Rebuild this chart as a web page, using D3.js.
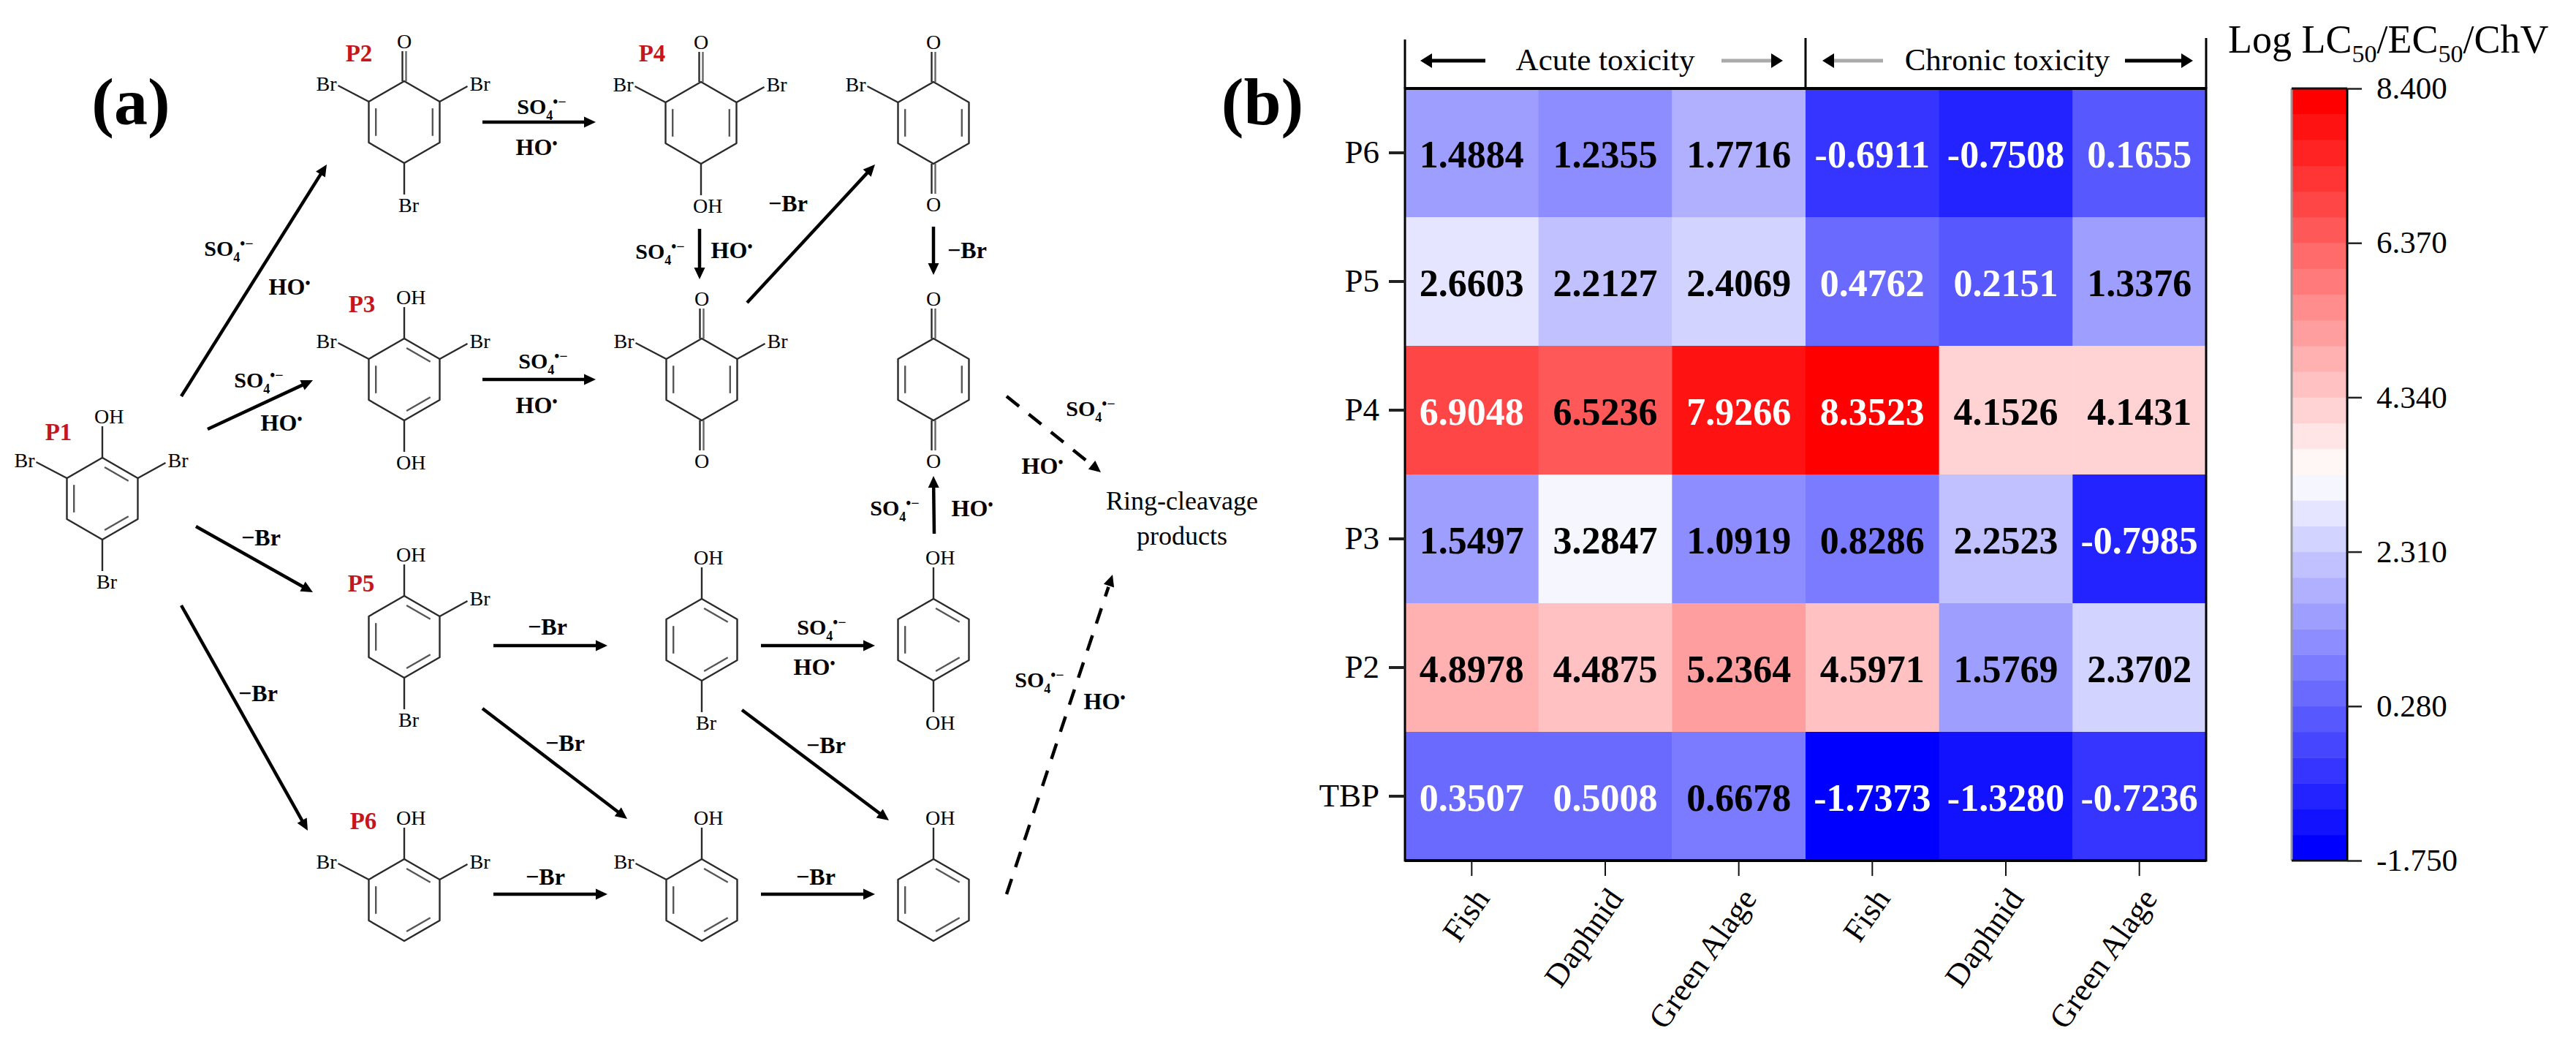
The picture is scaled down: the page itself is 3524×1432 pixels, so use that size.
<!DOCTYPE html>
<html><head><meta charset="utf-8">
<script src="https://cdn.jsdelivr.net/npm/d3@7"></script>
<style>
html,body{margin:0;padding:0;background:#fff}
svg{display:block}
text{font-family:"Liberation Serif","Times New Roman",serif;fill:#000}
</style></head><body>
<svg id="chart" width="3524" height="1432"></svg>
<script>
// ---------- panel (b) data ----------
const compounds = ["P6","P5","P4","P3","P2","TBP"];
const endpoints = ["Fish","Daphnid","Green Alage","Fish ","Daphnid ","Green Alage "];
const groupNames = ["Acute toxicity","Chronic toxicity"];
const rowP6  = [1.4884,1.2355,1.7716,-0.6911,-0.7508,0.1655];
const rowP5  = [2.6603,2.2127,2.4069,0.4762,0.2151,1.3376];
const rowP4  = [6.9048,6.5236,7.9266,8.3523,4.1526,4.1431];
const rowP3  = [1.5497,3.2847,1.0919,0.8286,2.2523,-0.7985];
const rowP2  = [4.8978,4.4875,5.2364,4.5971,1.5769,2.3702];
const rowTBP = [0.3507,0.5008,0.6678,-1.7373,-1.3280,-0.7236];
const toxicityRows = [rowP6,rowP5,rowP4,rowP3,rowP2,rowTBP];
const colorTicks = [8.4,6.37,4.34,2.31,0.28,-1.75];
const colorLevels = 30;
const legendTitle = ["Log LC","50","/EC","50","/ChV"];

// ---------- panel (a) data, in diagram units ----------
const ringSize = 5.6;
const molecules = [
 {id:"P1",x:14.0,y:68.2,dbl:[0,2,4],top:"OH",ul:"Br",ur:"Br",bottom:"Br"},
 {id:"P2",x:55.3,y:16.7,dbl:[1,4],top:"O",ul:"Br",ur:"Br",bottom:"Br"},
 {id:"P3",x:55.3,y:51.9,dbl:[0,2,4],top:"OH",ul:"Br",ur:"Br",bottom:"OH"},
 {id:"P5",x:55.3,y:87.1,dbl:[0,2,4],top:"OH",ur:"Br",bottom:"Br"},
 {id:"P6",x:55.3,y:123.1,dbl:[0,2,4],top:"OH",ul:"Br",ur:"Br"},
 {id:"P4",x:95.9,y:16.8,dbl:[1,4],top:"O",ul:"Br",ur:"Br",bottom:"OH"},
 {id:"",x:96.0,y:51.9,dbl:[1,4],top:"O",ul:"Br",ur:"Br",bottom:"O"},
 {id:"",x:96.0,y:87.5,dbl:[0,2,4],top:"OH",bottom:"Br"},
 {id:"",x:96.0,y:123.1,dbl:[0,2,4],top:"OH",ul:"Br"},
 {id:"",x:127.7,y:16.8,dbl:[1,4],top:"O",ul:"Br",bottom:"O"},
 {id:"",x:127.7,y:51.9,dbl:[1,4],top:"O",bottom:"O"},
 {id:"",x:127.7,y:87.5,dbl:[0,2,4],top:"OH",bottom:"OH"},
 {id:"",x:127.7,y:123.1,dbl:[0,2,4],top:"OH"}
];
const productTags = [
 ["P1",8.0,59.0],["P2",49.1,7.2],["P3",49.5,41.5],["P4",89.2,7.2],["P5",49.4,79.7],["P6",49.7,112.2]
];
const solidArrows = [
 [24.8,54.2,44.7,22.5],[28.4,58.7,42.8,52.0],[26.8,72.0,42.8,81.0],[24.8,82.8,42.1,113.6],
 [66.0,16.7,81.5,16.7],[66.0,51.9,81.5,51.9],[95.7,31.3,95.7,38.2],[102.2,41.4,119.7,22.5],
 [127.7,31.0,127.7,37.6],[127.8,73.0,127.7,65.1],[67.5,88.3,83.1,88.3],[104.1,88.3,119.7,88.3],
 [66.0,96.9,85.8,112.0],[101.5,97.1,121.6,112.2],[67.5,122.3,83.1,122.3],[104.1,122.3,119.7,122.3]
];
const dashedArrows = [[137.7,54.2,150.6,64.6],[137.7,122.3,152.2,78.6]];
const sulfateLabels = [[31.3,34.1],[35.4,52.1],[74.1,14.7],[74.3,49.5],[90.3,34.5],[149.2,56.0],[122.4,69.6],[112.4,85.9],[142.2,93.1]];
const hydroxylLabels = [[39.6,39.3],[38.5,57.9],[73.4,20.2],[73.4,55.5],[100.1,34.3],[142.6,63.8],[133.0,69.6],[111.4,91.3],[151.1,96.0]];
const bromideLabels = [[107.8,27.9],[132.3,34.3],[35.7,73.6],[35.3,94.9],[74.9,85.8],[77.3,101.7],[74.6,120.0],[113.0,102.0],[111.6,120.0]];
const productText = ["Ring-cleavage","products"];
const productTextPos = [161.7,68.6,73.4];
const panelLabels = [["(a)",17.9,17.0],["(b)",172.7,17.0]];

// ---------- layout ----------
const svg = d3.select("#chart");
const W = 3524, H = 1432;
const diagX = d3.scaleLinear().domain([0,352.4]).range([0,W]);
const diagY = d3.scaleLinear().domain([0,143.2]).range([0,H]);
const lineColor = "#2a2a2a";

// ---------- panel labels ----------
svg.selectAll("text.panel").data(panelLabels).join("text").attr("class","panel")
  .attr("x",d=>diagX(d[1])).attr("y",d=>diagY(d[2])).attr("text-anchor","middle")
  .attr("font-size",92).attr("font-weight","bold").text(d=>d[0]);

// ---------- molecules ----------
const molG = svg.append("g").attr("class","molecules");
const hexAngles = d3.range(6).map(i=>Math.PI*(i/3));
molecules.forEach(m=>{
  const cx=diagX(m.x), cy=diagY(m.y), R=diagY(ringSize);
  const g=molG.append("g");
  const V=hexAngles.map(a=>[cx+R*Math.sin(a),cy-R*Math.cos(a)]);
  g.append("path").attr("d",d3.line()(V)+"Z").attr("fill","none")
    .attr("stroke",lineColor).attr("stroke-width",2.4).attr("stroke-linejoin","round");
  m.dbl.forEach(i=>{
    const a=V[i], b=V[(i+1)%6], f=0.80;
    const p=t=>[cx+(t[0]-cx)*f,cy+(t[1]-cy)*f];
    const A=p(a),B=p(b), sh=0.08;
    g.append("line")
      .attr("x1",A[0]+(B[0]-A[0])*sh).attr("y1",A[1]+(B[1]-A[1])*sh)
      .attr("x2",B[0]-(B[0]-A[0])*sh).attr("y2",B[1]-(B[1]-A[1])*sh)
      .attr("stroke","#555").attr("stroke-width",2.4);
  });
  const bond=(x1,y1,x2,y2,stroke="#2a2a2a")=>g.append("line").attr("x1",x1).attr("y1",y1).attr("x2",x2).attr("y2",y2)
      .attr("stroke",stroke).attr("stroke-width",2.4);
  const atom=(t,x,y,anchor)=>g.append("text").attr("x",x).attr("y",y).attr("dy",".35em")
      .attr("text-anchor",anchor).attr("font-size",28).text(t);
  const vertical=(kind,v,dir)=>{
    if(kind==="O"){
      bond(v[0]-2.5,v[1],v[0]-2.5,v[1]+dir*41); bond(v[0]+2.5,v[1],v[0]+2.5,v[1]+dir*41,"#666");
      atom("O",v[0],v[1]+dir*55,"middle");
    } else {
      bond(v[0],v[1],v[0],v[1]+dir*43);
      atom(kind,v[0]-(kind==="OH"?11:8),v[1]+dir*57,"start");
    }
  };
  if(m.top) vertical(m.top,V[0],-1);
  if(m.bottom) vertical(m.bottom,V[3],1);
  if(m.ul){ bond(V[5][0],V[5][1],V[5][0]-42,V[5][1]-22); atom(m.ul,V[5][0]-44,V[5][1]-25,"end"); }
  if(m.ur){ bond(V[1][0],V[1][1],V[1][0]+38,V[1][1]-21); atom(m.ur,V[1][0]+41,V[1][1]-25,"start"); }
});

svg.selectAll("text.tag").data(productTags).join("text").attr("class","tag")
  .attr("x",d=>diagX(d[1])).attr("y",d=>diagY(d[2])).attr("dy",".35em").attr("text-anchor","middle")
  .attr("font-size",33).attr("font-weight","bold").style("fill","#c4161c").text(d=>d[0]);

// ---------- arrows ----------
function arrow(parent,d,dash,width){
  const x1=diagX(d[0]),y1=diagY(d[1]),x2=diagX(d[2]),y2=diagY(d[3]);
  const L=Math.hypot(x2-x1,y2-y1),ux=(x2-x1)/L,uy=(y2-y1)/L,hl=16,hw=7.5;
  parent.append("line").attr("x1",x1).attr("y1",y1).attr("x2",x2-ux*hl*(dash?1.1:.8)).attr("y2",y2-uy*hl*(dash?1.1:.8))
    .attr("stroke","#000").attr("stroke-width",width).attr("stroke-dasharray",dash||null);
  const bx=x2-ux*hl,by=y2-uy*hl;
  parent.append("path").attr("fill","#000")
    .attr("d",d3.line()([[x2,y2],[bx-uy*hw,by+ux*hw],[bx+uy*hw,by-ux*hw]])+"Z");
}
const arrG=svg.append("g").attr("class","arrows");
solidArrows.forEach(d=>arrow(arrG,d,null,4.5));
dashedArrows.forEach(d=>arrow(arrG,d,"22 17",4.5));

// ---------- reagent labels ----------
const reagentG=svg.append("g").attr("font-weight","bold").attr("font-size",30);
function sulfate(sel){
  sel.append("tspan").text("SO");
  sel.append("tspan").attr("font-size",18).attr("dy",8).text("4");
  sel.append("tspan").attr("font-size",20).attr("dy",-18).text("•−");
}
reagentG.selectAll("text.so").data(sulfateLabels).join("text").attr("class","so")
  .attr("x",d=>diagX(d[0])).attr("y",d=>diagY(d[1])+9).attr("text-anchor","middle").call(sulfate);
reagentG.selectAll("text.ho").data(hydroxylLabels).join("text").attr("class","ho")
  .attr("x",d=>diagX(d[0])).attr("y",d=>diagY(d[1])+10).attr("text-anchor","middle")
  .attr("font-size",32)
  .each(function(){const t=d3.select(this);t.append("tspan").text("HO");t.append("tspan").attr("font-size",20).attr("dy",-9).text("•");});
reagentG.selectAll("text.br").data(bromideLabels).join("text").attr("class","br")
  .attr("x",d=>diagX(d[0])).attr("y",d=>diagY(d[1])+10).attr("text-anchor","middle").attr("font-size",32).text("−Br");

svg.selectAll("text.prod").data(productText).join("text").attr("class","prod")
  .attr("x",diagX(productTextPos[0])).attr("y",(d,i)=>diagY(productTextPos[i+1])).attr("dy",".3em")
  .attr("text-anchor","middle").attr("font-size",36).text(d=>d);

// ---------- panel (b) heat map ----------
const hm={x0:1922,x1:3018,y0:121,y1:1177};
const x=d3.scaleBand().domain(endpoints).range([hm.x0,hm.x1]);
const y=d3.scaleBand().domain(compounds).range([hm.y0,hm.y1]);
const levelIdx=d3.range(colorLevels);
const diverge=t=>t<0.5?d3.rgb(255*t*2,255*t*2,255):d3.rgb(255,255*(1-t)*2,255*(1-t)*2);
const levelColors=levelIdx.map(i=>diverge(i/(colorLevels-1)).formatRgb());
const color=d3.scaleQuantize().domain([-1.75,8.4]).range(levelColors);

const cells=compounds.flatMap((c,r)=>endpoints.map((e,k)=>({c,e,v:toxicityRows[r][k]})));
const hmG=svg.append("g").attr("class","heatmap");
hmG.selectAll("rect").data(cells).join("rect")
  .attr("x",d=>x(d.e)).attr("y",d=>y(d.c)).attr("width",x.bandwidth()+.5).attr("height",y.bandwidth()+.5)
  .attr("fill",d=>color(d.v));
hmG.selectAll("text").data(cells).join("text")
  .attr("x",d=>x(d.e)+x.bandwidth()/2).attr("y",d=>y(d.c)+y.bandwidth()/2+2).attr("dy",".35em")
  .attr("text-anchor","middle").attr("font-size",52).attr("font-weight","bold")
  .style("fill",d=>(d.v<0.6||d.v>=6.6)?"#fff":"#000")
  .text(d=>d.v.toFixed(4));

// frame
const frame=svg.append("g").attr("stroke","#000").attr("stroke-width",3);
frame.append("rect").attr("x",hm.x0).attr("y",hm.y0).attr("width",hm.x1-hm.x0).attr("height",hm.y1-hm.y0).attr("fill","none");
frame.append("line").attr("x1",hm.x0).attr("x2",hm.x1).attr("y1",hm.y0).attr("y2",hm.y0).attr("stroke-width",4);
frame.append("line").attr("x1",hm.x0).attr("x2",hm.x1).attr("y1",hm.y1).attr("y2",hm.y1).attr("stroke-width",4);
const midX=x(endpoints[3]);
[[hm.x0,54],[midX,52],[hm.x1,52]].forEach(([px,top])=>
  frame.append("line").attr("x1",px).attr("x2",px).attr("y1",top).attr("y2",hm.y0));

// group header
svg.selectAll("text.group").data(groupNames).join("text").attr("class","group")
  .attr("x",(d,i)=>i?2746:2196).attr("y",83).attr("dy",".3em").attr("text-anchor","middle")
  .attr("font-size",43).text(d=>d);
const headerArrows=[[2032,1943,"#000"],[2355,2439,"#aaa"],[2576,2493,"#aaa"],[2907,3000,"#000"]];
headerArrows.forEach(([a,b,col])=>{
  const dir=Math.sign(b-a);
  svg.append("line").attr("x1",a).attr("x2",b-dir*14).attr("y1",83).attr("y2",83).attr("stroke",col).attr("stroke-width",5);
  svg.append("path").attr("fill","#000").attr("d",d3.line()([[b,83],[b-dir*16,73],[b-dir*16,93]])+"Z");
});

// axes
const fs=45;
const axL=svg.append("g").attr("transform",`translate(${hm.x0},0)`)
  .call(d3.axisLeft(y).tickSize(22).tickPadding(13));
axL.select(".domain").remove();
axL.selectAll("line").attr("stroke","#222").attr("stroke-width",4);
axL.selectAll("text").attr("font-size",fs).attr("font-family",null);
const axB=svg.append("g").attr("transform",`translate(0,${hm.y1})`)
  .call(d3.axisBottom(x).tickSize(21).tickPadding(0));
axB.select(".domain").remove();
axB.selectAll("line").attr("stroke","#111").attr("stroke-width",2);
axB.selectAll("text").attr("font-size",44).attr("font-family",null)
  .attr("text-anchor","end").attr("dy",0).attr("y",0)
  .attr("transform","translate(26,52) rotate(-55)");

// ---------- colour bar ----------
const cb={x0:3135,x1:3211};
const cbY=d3.scaleLinear().domain([-1.75,8.4]).range([hm.y1,hm.y0]);
const cbG=svg.append("g").attr("class","colorbar");
const step=(8.4+1.75)/colorLevels;
cbG.selectAll("rect").data(levelIdx).join("rect")
  .attr("x",cb.x0).attr("width",cb.x1-cb.x0)
  .attr("y",i=>cbY(-1.75+(i+1)*step)).attr("height",i=>cbY(-1.75+i*step)-cbY(-1.75+(i+1)*step)+.5)
  .attr("fill",i=>levelColors[i]);
cbG.append("line").attr("x1",cb.x0).attr("x2",cb.x0).attr("y1",hm.y0).attr("y2",hm.y1).attr("stroke","#999").attr("stroke-width",3);
cbG.append("line").attr("x1",cb.x1).attr("x2",cb.x1).attr("y1",hm.y0).attr("y2",hm.y1).attr("stroke","#000").attr("stroke-width",3);
[hm.y0,hm.y1].forEach(v=>cbG.append("line").attr("x1",cb.x0).attr("x2",cb.x1).attr("y1",v).attr("y2",v).attr("stroke","#111").attr("stroke-width",3));
const axC=svg.append("g").attr("transform",`translate(${cb.x1},0)`)
  .call(d3.axisRight(cbY).tickValues(colorTicks).tickFormat(v=>v.toFixed(3)).tickSize(20).tickPadding(20));
axC.select(".domain").remove();
axC.selectAll("line").attr("stroke","#222").attr("stroke-width",2.5);
axC.selectAll("text").attr("font-size",43).attr("font-family",null);

// legend title
const lt=svg.append("text").attr("x",3048).attr("y",72).attr("font-size",54);
legendTitle.forEach((s,i)=>{
  const sub=i%2===1;
  const prevSub=i>0&&(i-1)%2===1;
  lt.append("tspan").attr("font-size",sub?34:54).attr("dy",sub?13:(prevSub?-13:0)).text(s);
});
</script>
</body></html>
